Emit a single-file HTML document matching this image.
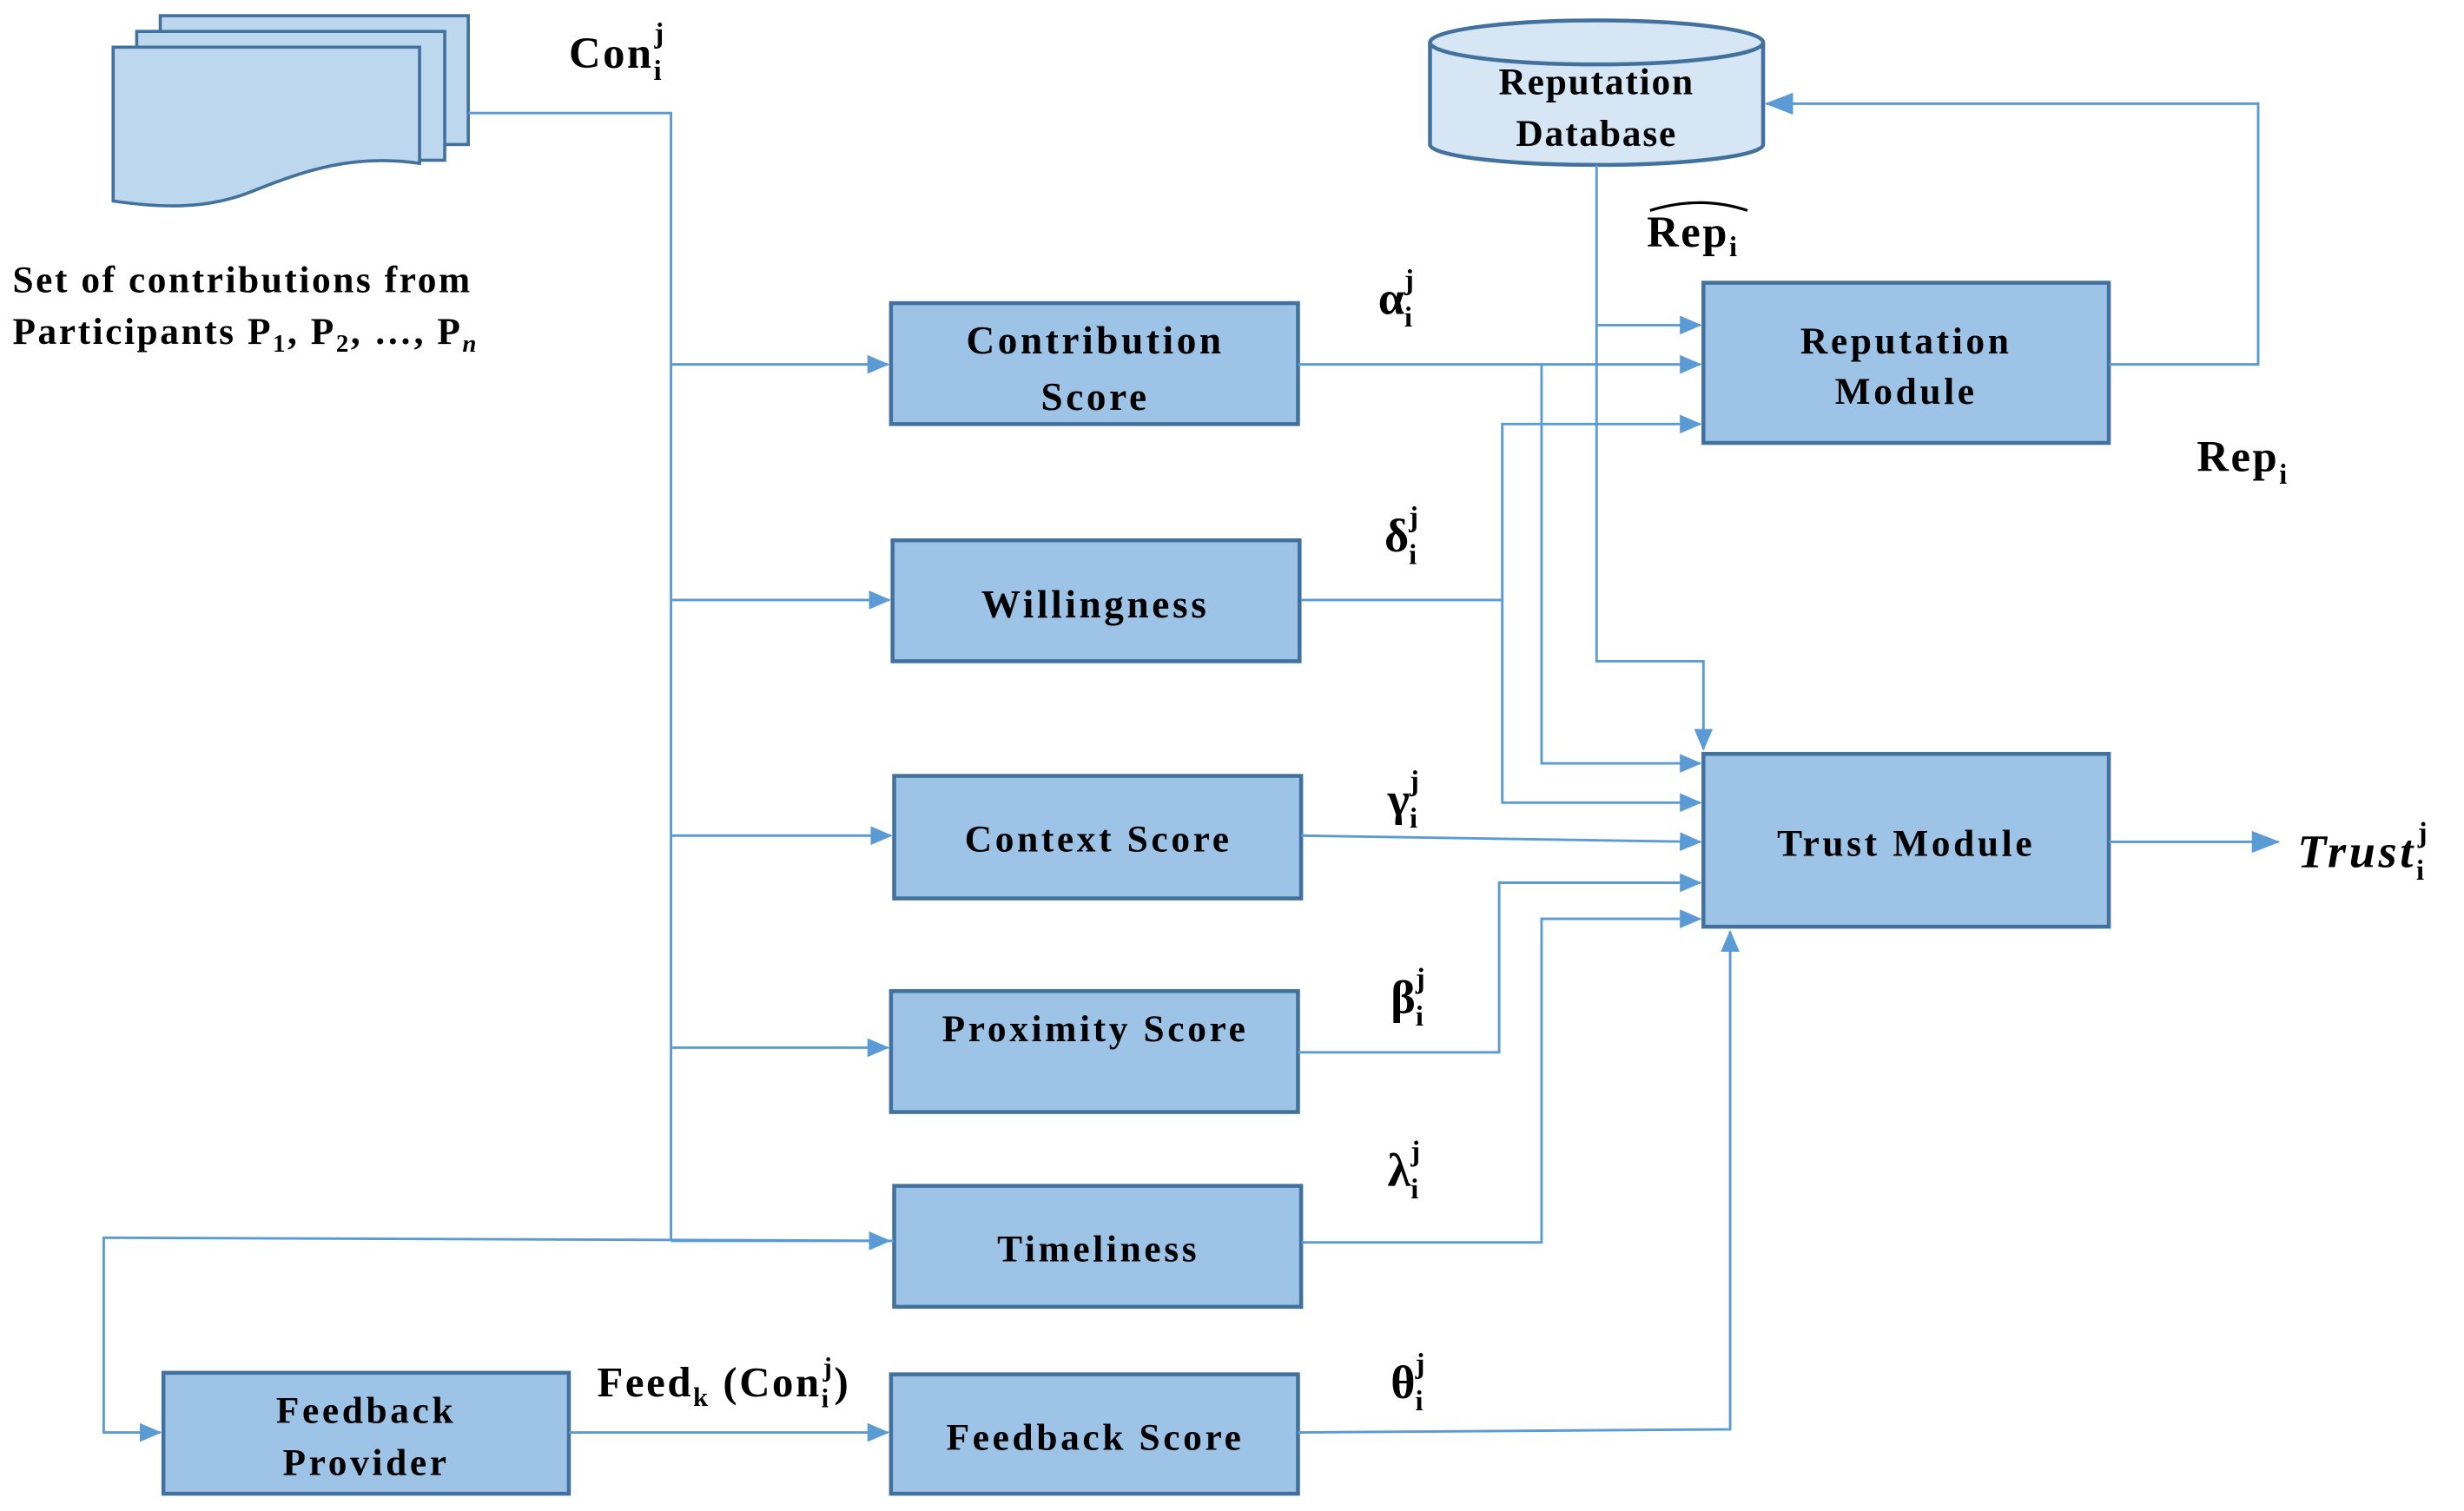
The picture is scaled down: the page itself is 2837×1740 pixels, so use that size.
<!DOCTYPE html>
<html><head><meta charset="utf-8"><style>
html,body{margin:0;padding:0;background:#fff}
svg{display:block}
text{font-family:"Liberation Serif",serif;font-weight:bold;fill:#000}
</style></head><body>
<svg width="2837" height="1740" viewBox="0 0 1568 962" preserveAspectRatio="none" xmlns="http://www.w3.org/2000/svg">
<defs>
<marker id="a" markerWidth="14" markerHeight="12" refX="13" refY="6" orient="auto" markerUnits="userSpaceOnUse">
<path d="M0,0 L14,6 L0,12 z" fill="#5b9bd5"/></marker>
<marker id="b" markerWidth="18" markerHeight="14" refX="17" refY="7" orient="auto" markerUnits="userSpaceOnUse">
<path d="M0,0 L18,7 L0,14 z" fill="#5b9bd5"/></marker>
</defs>
<g stroke="#41719c" stroke-width="2" fill="#bdd7ee">
<rect x="102" y="10" width="196" height="82"/>
<rect x="87" y="20" width="196" height="82"/>
<path d="M72,30 H267 V104 C225,98 195,108 160,122 C130,134 100,132 72,128 Z"/>
</g>
<g stroke="#41719c" stroke-width="2.5" fill="#9dc3e6">
<rect x="567" y="193" width="259" height="77"/>
<rect x="568" y="344" width="259" height="77"/>
<rect x="569" y="494" width="259" height="78"/>
<rect x="567" y="631" width="259" height="77"/>
<rect x="569" y="755" width="259" height="77"/>
<rect x="567" y="875" width="259" height="76"/>
<rect x="104" y="874" width="258" height="77"/>
<rect x="1084" y="180" width="258" height="102"/>
<rect x="1084" y="480" width="258" height="110"/>
</g>
<g stroke="#41719c" stroke-width="2.5" fill="#d6e6f5">
<path d="M910,27 V92 A106,13 0 0 0 1122,92 V27"/>
<ellipse cx="1016" cy="27" rx="106" ry="14"/>
</g>
<g stroke="#5b9bd5" stroke-width="1.6" fill="none">
<path d="M298,72 H427 V790"/>
<path d="M427,232 H565" marker-end="url(#a)"/>
<path d="M427,382 H566" marker-end="url(#a)"/>
<path d="M427,532 H567" marker-end="url(#a)"/>
<path d="M427,667 H565" marker-end="url(#a)"/>
<path d="M427,790 H566" marker-end="url(#a)"/>
<path d="M569,790 L66,788 V912 H102" marker-end="url(#a)"/>
<path d="M362,912 H565" marker-end="url(#a)"/>
<path d="M1016,105 V421 H1084 V477" marker-end="url(#a)"/>
<path d="M1016,207 H1082" marker-end="url(#a)"/>
<path d="M826,232 H1082" marker-end="url(#a)"/>
<path d="M981,232 V486 H1082" marker-end="url(#a)"/>
<path d="M828,382 H956 V270 H1082" marker-end="url(#a)"/>
<path d="M956,382 V511 H1082" marker-end="url(#a)"/>
<path d="M828,532 L1082,536" marker-end="url(#a)"/>
<path d="M826,670 H954 V562 H1082" marker-end="url(#a)"/>
<path d="M828,791 H981 V585 H1082" marker-end="url(#a)"/>
<path d="M826,912 L1101,910 V593" marker-end="url(#a)"/>
<path d="M1342,232 H1437 V66 H1124" marker-end="url(#b)"/>
<path d="M1342,536 H1450" marker-end="url(#b)"/>
</g>
<g font-size="25" text-anchor="middle" letter-spacing="2">
<text x="697" y="225">Contribution</text>
<text x="697" y="261">Score</text>
<text x="697" y="393">Willingness</text>
<text x="699" y="542" font-size="24">Context Score</text>
<text x="697" y="663" font-size="24">Proximity Score</text>
<text x="699" y="803" font-size="24">Timeliness</text>
<text x="697" y="923" font-size="24">Feedback Score</text>
<text x="233" y="906" font-size="24">Feedback</text>
<text x="233" y="939" font-size="24">Provider</text>
<text x="1213" y="225" font-size="24">Reputation</text>
<text x="1213" y="257" font-size="24">Module</text>
<text x="1213" y="545" font-size="24">Trust Module</text>
<text x="1016" y="60" font-size="24" letter-spacing="1">Reputation</text>
<text x="1016" y="93" font-size="24" letter-spacing="1">Database</text>
</g>
<g font-size="24" letter-spacing="1.4">
<text x="8" y="186">Set of contributions from</text>
<text x="8" y="219">Participants P<tspan font-size="16" dy="5">1</tspan><tspan dy="-5">, P</tspan><tspan font-size="16" dy="5">2</tspan><tspan dy="-5">, …, P</tspan><tspan font-size="16" dy="5" font-style="italic">n</tspan></text>
<text x="362" y="43" font-size="28">Con<tspan font-size="18" dy="8">i</tspan><tspan font-size="18" dx="-6" dy="-24">j</tspan></text>
<text x="1048" y="157" font-size="28">Rep<tspan font-size="18" dy="6">i</tspan></text>
<path d="M1050,134 Q1082,124 1112,134" stroke="#000" stroke-width="1.8" fill="none"/>
<text x="1398" y="300" font-size="28">Rep<tspan font-size="18" dy="8">i</tspan></text>
<text x="1462" y="552" font-size="30" font-style="italic" letter-spacing="2">Trust<tspan font-size="18" dy="8" font-style="normal">i</tspan><tspan font-size="18" dx="-6" dy="-24" font-style="normal">j</tspan></text>
<text x="380" y="889" font-size="27">Feed<tspan font-size="17" dy="6">k</tspan><tspan dy="-6"> (Con</tspan><tspan font-size="17" dy="7">i</tspan><tspan font-size="17" dx="-5" dy="-20">j</tspan><tspan dy="13">)</tspan></text>
</g>
<g font-size="30">
<text x="877" y="200">α<tspan font-size="18" dy="8">i</tspan><tspan font-size="18" dx="-5" dy="-24">j</tspan></text>
<text x="881" y="351">δ<tspan font-size="18" dy="8">i</tspan><tspan font-size="18" dx="-5" dy="-24">j</tspan></text>
<text x="883" y="519">γ<tspan font-size="18" dy="8">i</tspan><tspan font-size="18" dx="-5" dy="-24">j</tspan></text>
<text x="885" y="645">β<tspan font-size="18" dy="8">i</tspan><tspan font-size="18" dx="-5" dy="-24">j</tspan></text>
<text x="883" y="755">λ<tspan font-size="18" dy="8">i</tspan><tspan font-size="18" dx="-5" dy="-24">j</tspan></text>
<text x="885" y="890">θ<tspan font-size="18" dy="8">i</tspan><tspan font-size="18" dx="-5" dy="-24">j</tspan></text>
</g>
</svg>
</body></html>
